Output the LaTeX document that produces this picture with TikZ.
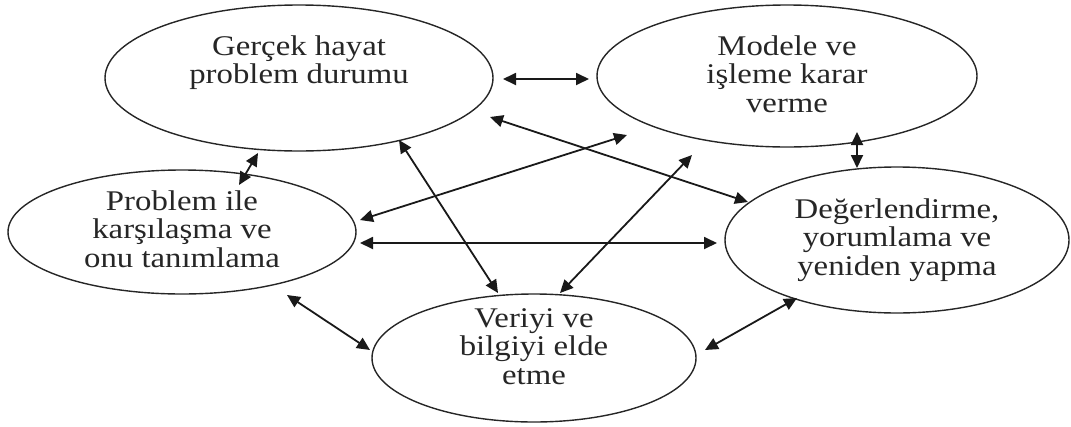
\documentclass[tikz,border=0pt]{standalone}
\usepackage{fontspec}
\usepackage{graphicx}
\setmainfont{Liberation Serif}
\usetikzlibrary{arrows.meta,shapes.geometric}

% multi-line label, slightly widened
\newcommand{\lbltext}[1]{\scalebox{1.15}[1]{\begin{tabular}{@{}c@{}}#1\end{tabular}}}

\tikzset{
  oval/.style={ellipse, draw=black!85, line width=1.4pt, inner sep=0pt, outer sep=0pt},
  lbl/.style={inner sep=0pt, text=black!85, font=\fontsize{28.5}{28.5}\selectfont},
  link/.style={line width=1.8pt, draw=black!90,
    {Triangle[length=13pt,width=12pt]}-{Triangle[length=13pt,width=12pt]}}
}

\begin{document}
\begin{tikzpicture}[x=1pt,y=-1pt]
\useasboundingbox (0,0) rectangle (1071,426);

% stages
\node[oval, minimum width=388pt, minimum height=146pt] (G) at (299,78) {};
\node[oval, minimum width=380pt, minimum height=142pt] (M) at (787,76) {};
\node[oval, minimum width=348pt, minimum height=124pt] (P) at (182,232) {};
\node[oval, minimum width=344pt, minimum height=146pt] (D) at (897,240) {};
\node[oval, minimum width=324pt, minimum height=128pt] (V) at (534,358) {};

% stage texts
\node[lbl] (Gt) at (299,64) {\lbltext{Gerçek hayat\\problem durumu}};
\node[lbl] (Mt) at (787,78) {\lbltext{Modele ve\\işleme karar\\verme}};
\node[lbl] (Pt) at (182,233) {\lbltext{Problem ile\\karşılaşma ve\\onu tanımlama}};
\node[lbl] (Dt) at (897,241) {\lbltext{Değerlendirme,\\yorumlama ve\\yeniden yapma}};
\node[lbl] (Vt) at (534,350) {\lbltext{Veriyi ve\\bilgiyi elde\\etme}};

% two-way links between stages
\draw[link] ([shift={(204,1)}]G.center) -- ([shift={(-198,3)}]M.center);
\draw[link] ([shift={(-41,75)}]G.center) -- ([shift={(57,-47)}]P.center);
\draw[link] ([shift={(100,62)}]G.center) -- ([shift={(-36,-65)}]V.center);
\draw[link] ([shift={(26,-65)}]V.center) -- ([shift={(-95,79)}]M.center);
\draw[link] ([shift={(178,-12)}]P.center) -- ([shift={(-160,59)}]M.center);
\draw[link] ([shift={(178,11)}]P.center) -- ([shift={(-180,3)}]D.center);
\draw[link] ([shift={(191,39)}]G.center) -- ([shift={(-149,-38)}]D.center);
\draw[link] ([shift={(70,56)}]M.center) -- ([shift={(-40,-72)}]D.center);
\draw[link] ([shift={(105,63)}]P.center) -- ([shift={(-164,-8)}]V.center);
\draw[link] ([shift={(171,-8)}]V.center) -- ([shift={(-100,58)}]D.center);
\end{tikzpicture}
\end{document}
